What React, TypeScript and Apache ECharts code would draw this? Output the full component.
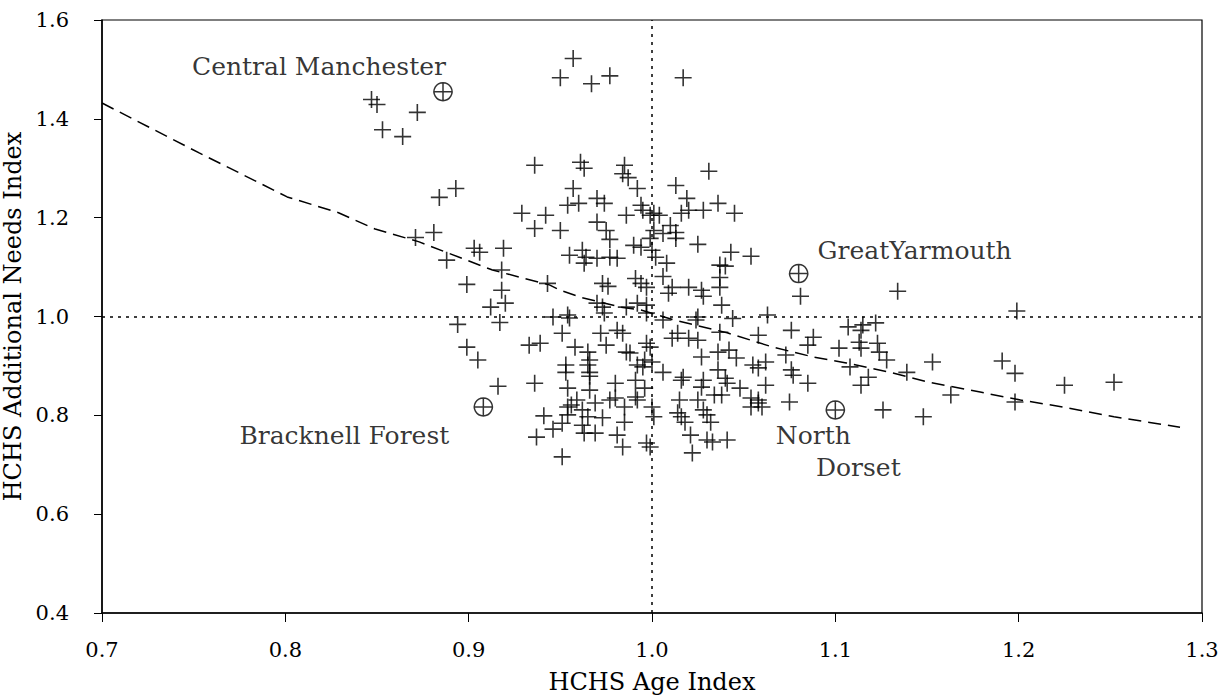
import React, { useEffect, useRef } from "react";
import * as echarts from "echarts";

// HCHS Age Index (x) vs HCHS Additional Needs Index (y)
const hchsPoints: [number, number][] = [
  [0.847, 1.439], [0.85, 1.429], [0.872, 1.413], [0.853, 1.378], [0.864, 1.364],
  [0.884, 1.241], [0.893, 1.259], [0.871, 1.16], [0.881, 1.17], [0.888, 1.114],
  [0.903, 1.138], [0.906, 1.13], [0.899, 1.065], [0.912, 1.019], [0.894, 0.984],
  [0.929, 1.209], [0.942, 1.205], [0.936, 1.178], [0.919, 1.138], [0.918, 1.094],
  [0.918, 1.053], [0.92, 1.027], [0.917, 0.988], [0.943, 1.067], [0.946, 0.999],
  [0.899, 0.938], [0.905, 0.912], [0.933, 0.942], [0.939, 0.946], [0.916, 0.859],
  [0.936, 0.865], [0.941, 0.799], [0.937, 0.756], [0.946, 0.772],
  [0.957, 1.522], [0.95, 1.483], [0.967, 1.471], [0.977, 1.487], [1.017, 1.483],
  [0.936, 1.306], [0.961, 1.312], [0.963, 1.3], [0.985, 1.306], [0.984, 1.289],
  [0.987, 1.281], [0.992, 1.259], [0.957, 1.259], [0.97, 1.239], [0.974, 1.229],
  [0.954, 1.225], [0.96, 1.229], [0.95, 1.174], [0.97, 1.191], [0.975, 1.174],
  [0.977, 1.156], [0.994, 1.225], [0.995, 1.215], [0.999, 1.205], [1.001, 1.209],
  [0.986, 1.205], [1.001, 1.174], [0.99, 1.144], [0.994, 1.14], [0.999, 1.158],
  [1.0, 1.134], [1.002, 1.12], [0.955, 1.124], [0.962, 1.134], [0.964, 1.12],
  [0.963, 1.108], [0.97, 1.118], [0.977, 1.12], [0.981, 1.118], [0.973, 1.067],
  [0.976, 1.061], [0.991, 1.077], [0.994, 1.067], [0.997, 1.059], [0.97, 1.027],
  [0.973, 1.019], [0.986, 1.019], [0.992, 1.027], [0.997, 1.023],
  [1.031, 1.294], [1.013, 1.265], [1.019, 1.239], [1.02, 1.215], [1.016, 1.209],
  [1.028, 1.215], [1.036, 1.229], [1.045, 1.209], [1.004, 1.205], [1.01, 1.184],
  [1.013, 1.17], [1.006, 1.168], [1.013, 1.158], [1.025, 1.146], [1.043, 1.13],
  [1.054, 1.122], [1.008, 1.108], [1.037, 1.104], [1.04, 1.102], [1.037, 1.079],
  [1.037, 1.059], [1.006, 1.081], [1.009, 1.047], [1.011, 1.059], [1.02, 1.059],
  [1.027, 1.053], [1.028, 1.041], [1.038, 1.023],
  [0.954, 1.003], [0.955, 0.997], [0.974, 1.007], [0.997, 1.007], [0.951, 0.966],
  [0.972, 0.966], [0.981, 0.972], [0.984, 0.966], [0.958, 0.938], [0.975, 0.942],
  [0.965, 0.928], [0.966, 0.912], [0.986, 0.928], [0.988, 0.926], [0.997, 0.946],
  [0.999, 0.938], [0.953, 0.902], [0.953, 0.887], [0.965, 0.902], [0.966, 0.887],
  [0.966, 0.879], [0.992, 0.902], [0.995, 0.898], [1.0, 0.908], [0.954, 0.855],
  [0.966, 0.851], [0.98, 0.865], [0.991, 0.871], [0.996, 0.855], [0.959, 0.831],
  [0.956, 0.821], [0.954, 0.817], [0.969, 0.825], [0.977, 0.831], [0.98, 0.835],
  [0.985, 0.817], [0.991, 0.837], [0.992, 0.831], [0.962, 0.811], [0.965, 0.797],
  [1.0, 0.817], [0.954, 0.801], [0.973, 0.795], [0.951, 0.784], [0.962, 0.78],
  [0.963, 0.764], [0.969, 0.764], [0.985, 0.786], [1.001, 0.797], [0.981, 0.76],
  [0.984, 0.736], [0.997, 0.744], [0.999, 0.736], [0.951, 0.716],
  [1.044, 0.996], [1.063, 1.003], [1.058, 0.962], [1.037, 0.968], [1.024, 0.993],
  [1.025, 0.999], [1.006, 0.993], [1.014, 0.966], [1.011, 0.956], [1.02, 0.956],
  [1.025, 0.952], [1.036, 0.928], [1.042, 0.932], [1.046, 0.916], [1.027, 0.918],
  [1.055, 0.902], [1.058, 0.896], [1.062, 0.908], [1.006, 0.887], [1.017, 0.877],
  [1.016, 0.871], [1.036, 0.892], [1.028, 0.871], [1.027, 0.857], [1.04, 0.875],
  [1.041, 0.865], [1.062, 0.861], [1.048, 0.855], [1.034, 0.841], [1.038, 0.841],
  [1.054, 0.835], [1.058, 0.831], [1.015, 0.831], [1.025, 0.831], [1.054, 0.817],
  [1.058, 0.825], [1.06, 0.817], [1.028, 0.811], [1.03, 0.801], [1.014, 0.805],
  [1.016, 0.797], [1.018, 0.786], [1.032, 0.786], [1.021, 0.76], [1.03, 0.75],
  [1.033, 0.746], [1.041, 0.75], [1.022, 0.724], [0.996, 0.912],
  [1.081, 1.041], [1.134, 1.051], [1.199, 1.011], [1.076, 0.972], [1.088, 0.958],
  [1.085, 0.942], [1.073, 0.922], [1.076, 0.892], [1.077, 0.881], [1.085, 0.865],
  [1.075, 0.827], [1.107, 0.979], [1.115, 0.983], [1.122, 0.987], [1.114, 0.972],
  [1.102, 0.936], [1.113, 0.948], [1.114, 0.936], [1.123, 0.946], [1.124, 0.928],
  [1.128, 0.912], [1.153, 0.908], [1.139, 0.887], [1.108, 0.898], [1.118, 0.877],
  [1.114, 0.861], [1.163, 0.841], [1.191, 0.91], [1.198, 0.885], [1.198, 0.827],
  [1.225, 0.861], [1.252, 0.867], [1.126, 0.811], [1.148, 0.797],
];

const namedAreas = ["Central Manchester", "GreatYarmouth", "Bracknell Forest", "North"];
const namedAge = [0.886, 1.08, 0.908, 1.1];
const namedNeeds = [1.455, 1.087, 0.817, 0.811];
const secondLine = ["Dorset"];

const trendAge = [0.7, 0.732, 0.753, 0.786, 0.801, 0.829, 0.849, 0.873, 0.913, 0.944, 0.95, 0.961, 0.983, 0.994, 1.012, 1.041, 1.066, 1.088, 1.106, 1.13, 1.151, 1.179, 1.201, 1.224, 1.252, 1.288];
const trendNeeds = [1.432, 1.371, 1.331, 1.27, 1.242, 1.21, 1.177, 1.151, 1.094, 1.064, 1.053, 1.039, 1.019, 1.013, 0.993, 0.967, 0.938, 0.918, 0.906, 0.887, 0.867, 0.847, 0.831, 0.817, 0.797, 0.776];

const refAge = 1.0;
const refNeeds = 1.0;

export default function App() {
  const ref = useRef<HTMLDivElement>(null);
  useEffect(() => {
    document.body.style.margin = "0";
    const chart = echarts.init(ref.current!, null, { renderer: "svg" });
    const font = "'DejaVu Serif', serif";
    const plus = "path://M8,0L8,16M0,8L16,8";
    const circPlus = "path://M10,0A10,10,0,1,1,9.99,0ZM10,0L10,20M0,10L20,10";
    const offsets = [[-124, -25], [116, -23], [-139, 29], [-22, 26]];
    const labelStyle = { fontFamily: font, fontSize: 25, color: "#000" };
    chart.setOption({
      animation: false,
      backgroundColor: "#fff",
      grid: {
        left: 102, right: 23, top: 20, bottom: 83, show: true,
        borderColor: "#000", borderWidth: 1.2, outerBoundsMode: "none", containLabel: false,
      },
      xAxis: {
        type: "value", min: 0.7, max: 1.3, interval: 0.1,
        name: "HCHS Age Index", nameLocation: "middle", nameGap: 57,
        nameTextStyle: { fontFamily: font, fontSize: 24, color: "#000" },
        axisLine: { show: true, onZero: false, lineStyle: { color: "#000", width: 1.5 } },
        axisTick: { show: true, length: 9, lineStyle: { color: "#000", width: 1 } },
        axisLabel: { fontFamily: font, fontSize: 21, color: "#000", margin: 26, formatter: (v: number) => v.toFixed(1) },
        splitLine: { show: false },
      },
      yAxis: {
        type: "value", min: 0.4, max: 1.6, interval: 0.2,
        name: "HCHS Additional Needs Index", nameLocation: "middle", nameGap: 68, nameRotate: 90,
        nameTextStyle: { fontFamily: font, fontSize: 24, color: "#000" },
        axisLine: { show: true, onZero: false, lineStyle: { color: "#000", width: 1.5 } },
        axisTick: { show: true, length: 8, lineStyle: { color: "#000", width: 1 } },
        axisLabel: { fontFamily: font, fontSize: 21, color: "#000", margin: 33, formatter: (v: number) => v.toFixed(1) },
        splitLine: { show: false },
      },
      series: [
        {
          type: "line",
          data: trendAge.map((x, i) => [x, trendNeeds[i]]),
          symbol: "none",
          lineStyle: { color: "#000", width: 1.5, type: [13, 7] },
          z: 2,
          markLine: {
            silent: true,
            symbol: "none",
            label: { show: false },
            lineStyle: { color: "#000", width: 1.5, type: [3, 5] },
            data: [{ xAxis: refAge }, { yAxis: refNeeds }],
          },
        },
        {
          type: "scatter",
          data: hchsPoints,
          symbol: plus,
          symbolSize: 17,
          itemStyle: { color: "none", borderColor: "#000", borderWidth: 1.6 },
          z: 3,
        },
        {
          type: "scatter",
          symbol: circPlus,
          symbolSize: 18,
          itemStyle: { color: "none", borderColor: "#000", borderWidth: 1.5 },
          z: 4,
          data: namedAreas.map((n, i) => ({
            name: n,
            value: [namedAge[i], namedNeeds[i]],
            label: {
              show: true, position: "inside", formatter: n, offset: offsets[i],
              align: "center", verticalAlign: "middle", ...labelStyle,
            },
          })),
        },
        {
          type: "scatter",
          symbol: "circle",
          symbolSize: 1,
          itemStyle: { color: "rgba(0,0,0,0)" },
          z: 4,
          data: secondLine.map((n) => ({
            name: n,
            value: [namedAge[3], namedNeeds[3]],
            label: {
              show: true, position: "inside", formatter: n, offset: [23, 58],
              align: "center", verticalAlign: "middle", ...labelStyle,
            },
          })),
        },
      ],
    });
    return () => chart.dispose();
  }, []);
  return <div ref={ref} style={{ width: 1225, height: 696 }} />;
}
